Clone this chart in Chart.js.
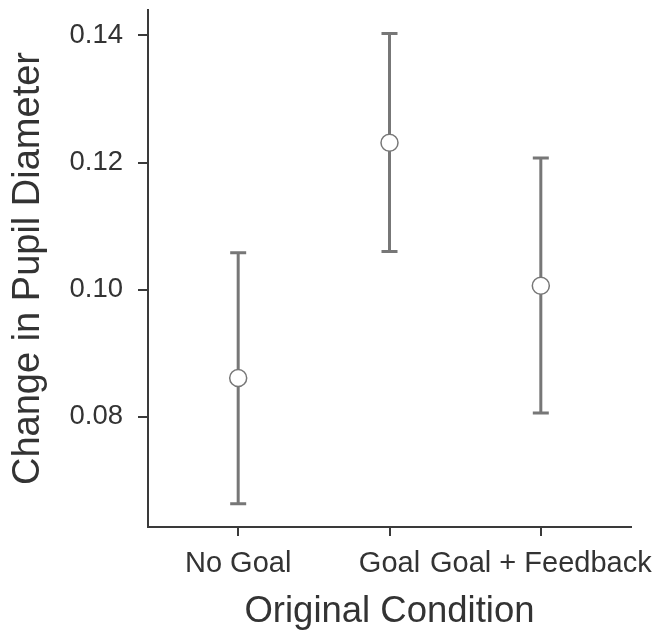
<!DOCTYPE html>
<html lang="en">
<head>
    <meta charset="UTF-8">
    <title>Change in Pupil Diameter</title>
    <style>
        body {
            margin: 0;
            background: #fff;
        }
        #wrap {
            width: 656px;
            height: 636px;
        }
    </style>
</head>
<body>
    <div id="wrap"><canvas id="chart" width="656" height="636"></canvas></div>

    <script src="https://cdn.jsdelivr.net/npm/chart.js@4.4.1/dist/chart.umd.min.js"></script>
    <script>
    // data
    const conditions = ['No Goal', 'Goal', 'Goal + Feedback'];
    const means = [0.0861, 0.1231, 0.1006];
    const upper = [0.1058, 0.1403, 0.1207];
    const lower = [0.0663, 0.1060, 0.0806];
    const yTicks = [0.08, 0.10, 0.12, 0.14];

    const barColor = '#777777';
    const axisColor = '#3a3a3a';
    const textColor = '#333333';
    const fontFamily = '"Liberation Sans", Arial, Helvetica, sans-serif';

    // vertical error bars with caps, drawn under the points
    const errorBars = {
        id: 'errorBars',
        beforeDatasetsDraw(chart) {
            const ctx = chart.ctx;
            const xs = chart.scales.x, ys = chart.scales.y;
            ctx.save();
            ctx.strokeStyle = barColor;
            ctx.lineWidth = 3;
            ctx.lineCap = 'butt';
            conditions.forEach((c, i) => {
                const px = xs.getPixelForValue(i);
                const top = ys.getPixelForValue(upper[i]);
                const bot = ys.getPixelForValue(lower[i]);
                ctx.beginPath();
                ctx.moveTo(px, top);
                ctx.lineTo(px, bot);
                ctx.moveTo(px - 8, top);
                ctx.lineTo(px + 8, top);
                ctx.moveTo(px - 8, bot);
                ctx.lineTo(px + 8, bot);
                ctx.stroke();
            });
            ctx.restore();
        }
    };

    const chart = new Chart(document.getElementById('chart').getContext('2d'), {
        type: 'scatter',
        data: {
            datasets: [{
                data: means.map((m, i) => ({ x: i, y: m })),
                pointRadius: 8.5,
                pointHoverRadius: 8.5,
                pointBackgroundColor: '#ffffff',
                pointBorderColor: barColor,
                pointBorderWidth: 1.5
            }]
        },
        options: {
            responsive: false,
            animation: false,
            events: [],
            layout: { padding: { top: 10, right: 25, left: 0, bottom: 0 } },
            plugins: {
                legend: { display: false },
                tooltip: { enabled: false }
            },
            scales: {
                x: {
                    type: 'linear',
                    min: -0.596,
                    max: 2.596,
                    afterBuildTicks: (s) => { s.ticks = conditions.map((c, i) => ({ value: i })); },
                    afterFit: (s) => { s.height = 109; s.paddingLeft = 0; s.paddingRight = 0; },
                    ticks: {
                        callback: (v) => conditions[v],
                        color: textColor,
                        font: { family: fontFamily, size: 29 },
                        padding: 11,
                        maxRotation: 0,
                        autoSkip: false
                    },
                    grid: {
                        drawOnChartArea: false,
                        drawTicks: true,
                        tickLength: 9,
                        color: axisColor,
                        lineWidth: 2
                    },
                    border: { display: true, color: axisColor, width: 2 },
                    title: {
                        display: true,
                        text: 'Original Condition',
                        color: textColor,
                        font: { family: fontFamily, size: 36.5 },
                        padding: { top: 0, bottom: 2 }
                    }
                },
                y: {
                    min: 0.06265,
                    max: 0.1440,
                    afterBuildTicks: (s) => { s.ticks = yTicks.map(v => ({ value: v })); },
                    afterFit: (s) => { s.width = 148; s.paddingTop = 0; s.paddingBottom = 0; },
                    ticks: {
                        callback: (v) => v.toFixed(2),
                        color: textColor,
                        font: { family: fontFamily, size: 27.5 },
                        padding: 15
                    },
                    grid: {
                        drawOnChartArea: false,
                        drawTicks: true,
                        tickLength: 10,
                        color: axisColor,
                        lineWidth: 2
                    },
                    border: { display: true, color: axisColor, width: 2 },
                    title: {
                        display: true,
                        text: 'Change in Pupil Diameter',
                        color: textColor,
                        font: { family: fontFamily, size: 38 },
                        padding: { top: 6, bottom: 0 }
                    }
                }
            }
        },
        plugins: [errorBars]
    });
    </script>
</body>
</html>
